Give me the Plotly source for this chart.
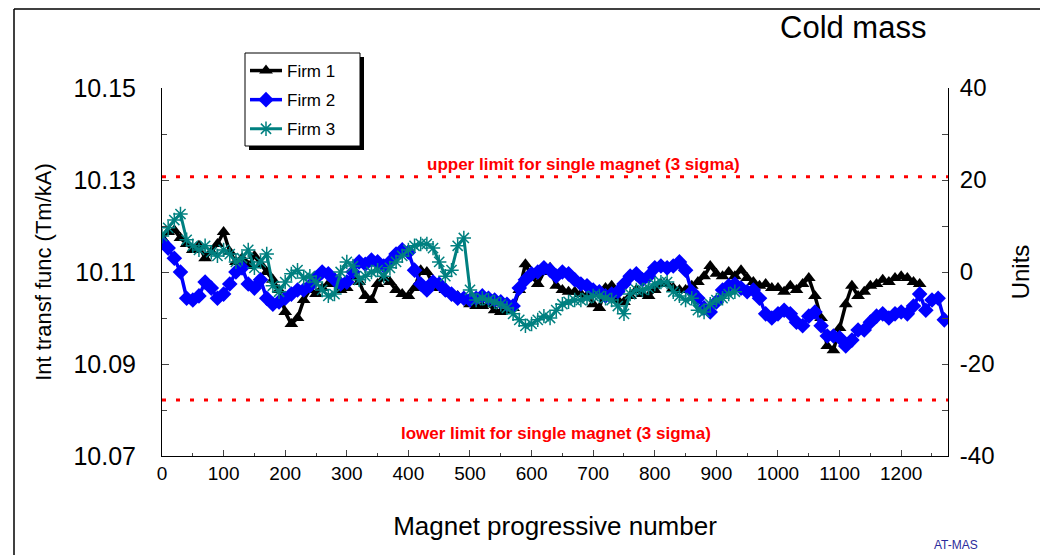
import plotly.graph_objects as go

# ---------------- data (integrated transfer function, Tm/kA) ----------------
magnet_step = 10  # values read every 10 magnets

firm1 = [10.1174, 10.1187, 10.1191, 10.1174, 10.1161, 10.1148, 10.1157, 10.1130, 10.1144, 10.1161,
         10.1187, 10.1144, 10.1122, 10.1130, 10.1113, 10.1135, 10.1117, 10.1100, 10.1083, 10.1061,
         10.1013, 10.0987, 10.1000, 10.1039, 10.1061, 10.1052, 10.1065, 10.1074, 10.1078, 10.1061,
         10.1065, 10.1091, 10.1078, 10.1048, 10.1039, 10.1074, 10.1087, 10.1078, 10.1061, 10.1052,
         10.1048, 10.1065, 10.1104, 10.1100, 10.1074, 10.1065, 10.1061, 10.1052, 10.1048, 10.1039,
         10.1030, 10.1026, 10.1026, 10.1030, 10.1017, 10.1013, 10.1017, 10.1022, 10.1061, 10.1117,
         10.1091, 10.1074, 10.1100, 10.1109, 10.1070, 10.1061, 10.1057, 10.1057, 10.1052, 10.1048,
         10.1030, 10.1022, 10.1065, 10.1070, 10.1039, 10.1035, 10.1048, 10.1061, 10.1052, 10.1048,
         10.1061, 10.1074, 10.1074, 10.1065, 10.1061, 10.1061, 10.1070, 10.1078, 10.1091, 10.1113,
         10.1096, 10.1091, 10.1100, 10.1091, 10.1104, 10.1087, 10.1078, 10.1070, 10.1074, 10.1065,
         10.1065, 10.1057, 10.1070, 10.1061, 10.1074, 10.1087, 10.1048, 10.1000, 10.0939, 10.0930,
         10.0978, 10.1030, 10.1070, 10.1048, 10.1057, 10.1070, 10.1074, 10.1083, 10.1078, 10.1087,
         10.1091, 10.1087, 10.1078, 10.1074]

firm2 = [10.1165, 10.1152, 10.1130, 10.1100, 10.1043, 10.1039, 10.1048, 10.1078, 10.1065, 10.1043,
         10.1052, 10.1074, 10.1100, 10.1109, 10.1074, 10.1065, 10.1083, 10.1043, 10.1030, 10.1035,
         10.1043, 10.1052, 10.1061, 10.1061, 10.1070, 10.1087, 10.1100, 10.1096, 10.1083, 10.1074,
         10.1078, 10.1100, 10.1122, 10.1117, 10.1126, 10.1122, 10.1113, 10.1122, 10.1139, 10.1148,
         10.1143, 10.1104, 10.1074, 10.1061, 10.1078, 10.1074, 10.1061, 10.1052, 10.1043, 10.1043,
         10.1039, 10.1043, 10.1048, 10.1043, 10.1039, 10.1035, 10.1030, 10.1026, 10.1065, 10.1083,
         10.1096, 10.1100, 10.1109, 10.1104, 10.1091, 10.1100, 10.1096, 10.1083, 10.1074, 10.1070,
         10.1061, 10.1057, 10.1048, 10.1052, 10.1057, 10.1074, 10.1091, 10.1096, 10.1083, 10.1091,
         10.1109, 10.1113, 10.1109, 10.1113, 10.1122, 10.1104, 10.1057, 10.1043, 10.1022, 10.1013,
         10.1035, 10.1061, 10.1070, 10.1074, 10.1065, 10.1057, 10.1061, 10.1043, 10.1009, 10.1000,
         10.1009, 10.1017, 10.1009, 10.0991, 10.0983, 10.1004, 10.1013, 10.0983, 10.0961, 10.0961,
         10.0957, 10.0939, 10.0952, 10.0974, 10.0974, 10.0991, 10.1004, 10.1009, 10.1000, 10.1009,
         10.1013, 10.1009, 10.1026, 10.1052, 10.1017, 10.1039, 10.1043, 10.0996]

firm3 = [10.1178, 10.1196, 10.1213, 10.1226, 10.1170, 10.1157, 10.1148, 10.1157, 10.1143, 10.1135,
         10.1148, 10.1139, 10.1122, 10.1130, 10.1148, 10.1109, 10.1122, 10.1139, 10.1070, 10.1057,
         10.1078, 10.1096, 10.1104, 10.1087, 10.1091, 10.1078, 10.1061, 10.1048, 10.1052, 10.1100,
         10.1122, 10.1113, 10.1083, 10.1091, 10.1100, 10.1104, 10.1091, 10.1109, 10.1122, 10.1135,
         10.1148, 10.1157, 10.1161, 10.1161, 10.1152, 10.1122, 10.1091, 10.1104, 10.1157, 10.1174,
         10.1061, 10.1039, 10.1043, 10.1039, 10.1035, 10.1030, 10.1022, 10.1009, 10.0996, 10.0983,
         10.0987, 10.0996, 10.1004, 10.1000, 10.1017, 10.1030, 10.1035, 10.1039, 10.1039, 10.1043,
         10.1048, 10.1048, 10.1043, 10.1039, 10.1026, 10.1009, 10.1052, 10.1061, 10.1061, 10.1065,
         10.1074, 10.1078, 10.1078, 10.1057, 10.1048, 10.1039, 10.1043, 10.1017, 10.1013, 10.1030,
         10.1039, 10.1043, 10.1052, 10.1057]

series_names = ["Firm 1", "Firm 2", "Firm 3"]
upper_limit = 10.1307
lower_limit = 10.0822
y_ticks_left = [10.07, 10.09, 10.11, 10.13, 10.15]
y_ticks_right = [-40, -20, 0, 20, 40]
y_ticks_right_text = ["-40", "-20", "0", "20", "40"]
x_ticks = list(range(0, 1300, 100))

FONT = "Liberation Sans, Arial, sans-serif"

# page body has an 8px margin: the figure is drawn 8px right/down, so it is
# made 8px smaller and positions below are given in window pixels.
OFF = 8
W, H = 1048 - OFF, 555 - OFF
L, R, T, B = 162, 948, 88, 456   # plot area in window pixels


def px(xp):
    return (xp - L) / (R - L)


def py(yp):
    return (B - yp) / (B - T)


def magnets(vals):
    return [i * magnet_step for i in range(len(vals))]


fig = go.Figure()

# thick underlay lines give the dense marker band of the original
fig.add_trace(go.Scatter(
    x=magnets(firm1), y=firm1, name=series_names[0], mode="lines+markers",
    legendgroup="a", line=dict(color="black", width=3.5),
    marker=dict(symbol="triangle-up", size=12, color="black")))
fig.add_trace(go.Scatter(
    x=magnets(firm2), y=firm2, name=series_names[1], mode="lines+markers",
    legendgroup="b", line=dict(color="#0000FF", width=3.5),
    marker=dict(symbol="diamond", size=12, color="#0000FF")))
fig.add_trace(go.Scatter(
    x=magnets(firm3), y=firm3, name=series_names[2], mode="lines+markers",
    legendgroup="c", line=dict(color="#008080", width=3),
    marker=dict(symbol="asterisk-open", size=12, color="#008080",
                line=dict(color="#008080", width=1.5))))
# invisible trace to activate the right-hand "Units" axis
fig.add_trace(go.Scatter(x=[None], y=[None], yaxis="y2", showlegend=False,
                         hoverinfo="skip", mode="lines"))

# limit lines
for lim in (upper_limit, lower_limit):
    fig.add_shape(type="line", xref="paper", x0=0, x1=1, yref="y", y0=lim, y1=lim,
                  line=dict(color="#FF0000", width=3, dash="4px,10px"))

fig.add_annotation(x=px(583), y=py(164), xref="paper", yref="paper", showarrow=False,
                   xanchor="center", yanchor="middle",
                   text="<b>upper limit for single magnet (3 sigma)</b>",
                   font=dict(family=FONT, size=17, color="#FF0000"))
fig.add_annotation(x=px(556), y=py(433), xref="paper", yref="paper", showarrow=False,
                   xanchor="center", yanchor="middle",
                   text="<b>lower limit for single magnet (3 sigma)</b>",
                   font=dict(family=FONT, size=17, color="#FF0000"))
fig.add_annotation(x=px(853), y=py(28), xref="paper", yref="paper", showarrow=False,
                   xanchor="center", yanchor="middle",
                   text="Cold mass", font=dict(family=FONT, size=31, color="black"))
fig.add_annotation(x=px(956), y=py(545), xref="paper", yref="paper", showarrow=False,
                   xanchor="center", yanchor="middle",
                   text="AT-MAS", font=dict(family=FONT, size=12, color="#2B2B9B"))

# outer frame (left and top edges)
fig.add_shape(type="line", xref="paper", yref="paper", x0=px(14), x1=px(14), y0=py(9), y1=py(600),
              line=dict(color="black", width=1.5))
fig.add_shape(type="line", xref="paper", yref="paper", x0=px(14), x1=px(1060), y0=py(9), y1=py(9),
              line=dict(color="black", width=1.5))
# legend box with shadow (legend itself is transparent, drawn on top)
fig.add_shape(type="rect", xref="paper", yref="paper", x0=px(249), x1=px(364), y0=py(57), y1=py(150),
              fillcolor="black", line=dict(width=0), layer="above")
fig.add_shape(type="rect", xref="paper", yref="paper", x0=px(245), x1=px(360), y0=py(53), y1=py(146),
              fillcolor="white", line=dict(color="black", width=1), layer="above")

fig.update_layout(
    width=W, height=H,
    margin=dict(l=L - OFF, r=(W + OFF) - R, t=T - OFF, b=(H + OFF) - B),
    paper_bgcolor="white", plot_bgcolor="white",
    font=dict(family=FONT, color="black"),
    showlegend=True,
    legend=dict(x=px(245), y=py(53), xanchor="left", yanchor="top",
                bgcolor="rgba(0,0,0,0)", borderwidth=0,
                font=dict(family=FONT, size=17), tracegroupgap=4,
                itemwidth=32),
    xaxis=dict(range=[0, 1276], tickvals=x_ticks, ticks="inside", ticklen=6,
               showline=True, linecolor="black", linewidth=1, showgrid=False, zeroline=False,
               tickfont=dict(size=19), minor=dict(dtick=50, ticks="inside", ticklen=3),
               title=dict(text="Magnet progressive number", font=dict(size=26), standoff=34)),
    yaxis=dict(range=[10.07, 10.15], tickvals=y_ticks_left, tickformat=".2f",
               ticks="inside", ticklen=7, showline=True, linecolor="black", linewidth=1,
               showgrid=False, zeroline=False, tickfont=dict(size=25), ticklabelstandoff=20,
               minor=dict(dtick=0.01, ticks="inside", ticklen=5),
               title=dict(text="Int transf func (Tm/kA)", font=dict(size=22), standoff=15)),
    yaxis2=dict(range=[-40, 40], tickvals=y_ticks_right, ticktext=y_ticks_right_text,
                overlaying="y", side="right",
                ticks="inside", ticklen=6, showline=True, linecolor="black", linewidth=1,
                showgrid=False, zeroline=False, tickfont=dict(size=24), ticklabelstandoff=6,
                minor=dict(dtick=10, ticks="inside", ticklen=6),
                title=dict(text="Units", font=dict(size=24), standoff=18)),
)

fig.write_html("out.html")
